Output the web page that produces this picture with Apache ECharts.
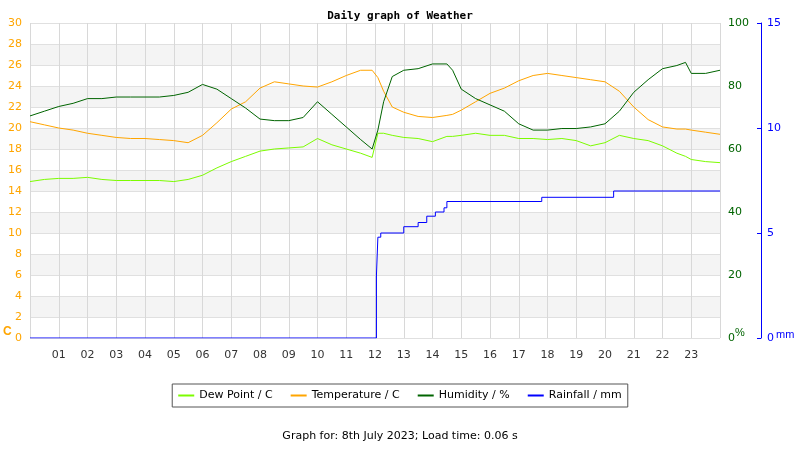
<!DOCTYPE html>
<html><head><meta charset="utf-8">
<script src="https://cdn.jsdelivr.net/npm/echarts@6/dist/echarts.min.js"></script>
<style>body{margin:0}#c{width:800px;height:450px}</style>
</head><body><div id="c"></div>
<script>
var hours = [0,0.5,1,1.5,2,2.5,3,3.5,4,4.5,5,5.5,6,6.5,7,7.5,8,8.5,9,9.5,10,10.5,11,11.5,11.9,12.1,12.3,12.6,13,13.5,14,14.5,14.7,15,15.5,16,16.5,17,17.5,18,18.5,19,19.5,20,20.5,21,21.5,22,22.5,22.8,23,23.5,24];
var temperature = [20.6,20.3,20.0,19.8,19.5,19.3,19.1,19.0,19.0,18.9,18.8,18.6,19.3,20.5,21.8,22.5,23.8,24.4,24.2,24.0,23.9,24.4,25.0,25.5,25.5,24.8,23.5,22.0,21.5,21.1,21.0,21.2,21.3,21.7,22.5,23.3,23.8,24.5,25.0,25.2,25.0,24.8,24.6,24.4,23.5,22.0,20.8,20.1,19.9,19.9,19.8,19.6,19.4];
var dewPoint = [14.9,15.1,15.2,15.2,15.3,15.1,15.0,15.0,15.0,15.0,14.9,15.1,15.5,16.2,16.8,17.3,17.8,18.0,18.1,18.2,19.0,18.4,18.0,17.6,17.2,19.5,19.5,19.3,19.1,19.0,18.7,19.2,19.2,19.3,19.5,19.3,19.3,19.0,19.0,18.9,19.0,18.8,18.3,18.6,19.3,19.0,18.8,18.3,17.6,17.3,17.0,16.8,16.7];
var humidity = [70.5,72,73.5,74.5,76,76,76.5,76.5,76.5,76.5,77,78,80.5,79,76,73,69.5,69,69,70,75,71,67,63,60,66,75,83,85,85.5,87,87,85,79,76,74,72,68,66,66,66.5,66.5,67,68,72,78,82,85.5,86.5,87.5,84,84,85];
var rainHours = [0,11.9,12.05,12.1,12.2,13,13.5,13.8,14.1,14.4,14.5,15,17.8,20.3,24];
var rainfall = [0,0,3,4.8,5.0,5.3,5.5,5.8,6.0,6.2,6.5,6.5,6.7,7.0,7.0];

function pairs(xs, ys) { return xs.map(function (x, i) { return [x, ys[i]]; }); }
function pad(v) { return (v < 10 ? '0' : '') + v; }

var chart = echarts.init(document.getElementById('c'));
chart.setOption({
    animation: false,
    textStyle: {fontFamily: 'DejaVu Sans'},
    title: {
        text: 'Daily graph of Weather', left: 'center', top: 6,
        textStyle: {fontFamily: 'DejaVu Sans Mono', fontSize: 11, fontWeight: 'bold', color: '#000'}
    },
    legend: {
        bottom: 43, left: 'center', itemWidth: 16, itemHeight: 2, itemGap: 18,
        borderColor: '#555', borderWidth: 1, padding: [6, 6],
        icon: 'rect', textStyle: {fontSize: 11, color: '#000'},
        data: ['Dew Point / C', 'Temperature / C', 'Humidity / %', 'Rainfall / mm']
    },
    graphic: [{
        type: 'text', left: 'center', top: 431,
        style: {text: 'Graph for: 8th July 2023; Load time: 0.06 s', fontSize: 11, fill: '#000', fontFamily: 'DejaVu Sans'}
    }, {
        type: 'text', left: 3, top: 326,
        style: {text: 'C', fontSize: 12, fontWeight: 'bold', fill: '#ffa500'}
    }, {
        type: 'text', left: 735, top: 327,
        style: {text: '%', fontSize: 11, fill: '#006400'}
    }, {
        type: 'text', left: 776, top: 329,
        style: {text: 'mm', fontSize: 11, fill: '#0000ff'}
    }],
    grid: {left: 30, right: 80, top: 23, bottom: 112, outerBoundsMode: 'none'},
    xAxis: {
        type: 'value', min: 0, max: 24, interval: 1,
        axisLine: {show: false}, axisTick: {show: false},
        splitLine: {lineStyle: {color: '#d8d8d8'}},
        axisLabel: {
            color: '#333', fontSize: 11, margin: 12,
            formatter: function (v) { return (v === 0 || v === 24) ? '' : pad(v); }
        }
    },
    yAxis: [{
        type: 'value', min: 0, max: 30, interval: 2, position: 'left',
        axisLine: {show: false}, axisTick: {show: false},
        axisLabel: {color: '#ffa500', fontSize: 11, margin: 8},
        splitLine: {lineStyle: {color: '#e0e0e0'}},
        splitArea: {show: true, areaStyle: {color: ['#ffffff', '#f4f4f4']}}
    }, {
        type: 'value', min: 0, max: 100, interval: 20, position: 'right',
        axisLine: {show: false}, axisTick: {show: false}, splitLine: {show: false},
        axisLabel: {color: '#006400', fontSize: 11, margin: 8}
    }, {
        type: 'value', min: 0, max: 15, interval: 5, position: 'right', offset: 41,
        axisLine: {show: true, lineStyle: {color: '#0000ff'}},
        axisTick: {show: true, length: 4, inside: true}, splitLine: {show: false},
        axisLabel: {color: '#0000ff', fontSize: 11, margin: 6}
    }],
    series: [{
        name: 'Dew Point / C', type: 'line', yAxisIndex: 0, showSymbol: false,
        itemStyle: {color: '#7cfc00'}, lineStyle: {width: 1},
        data: pairs(hours, dewPoint)
    }, {
        name: 'Temperature / C', type: 'line', yAxisIndex: 0, showSymbol: false,
        itemStyle: {color: '#ffa500'}, lineStyle: {width: 1},
        data: pairs(hours, temperature)
    }, {
        name: 'Humidity / %', type: 'line', yAxisIndex: 1, showSymbol: false,
        itemStyle: {color: '#006400'}, lineStyle: {width: 1},
        data: pairs(hours, humidity)
    }, {
        name: 'Rainfall / mm', type: 'line', yAxisIndex: 2, showSymbol: false, step: 'end',
        itemStyle: {color: '#0000ff'}, lineStyle: {width: 1},
        data: pairs(rainHours, rainfall)
    }]
});
</script></body></html>
